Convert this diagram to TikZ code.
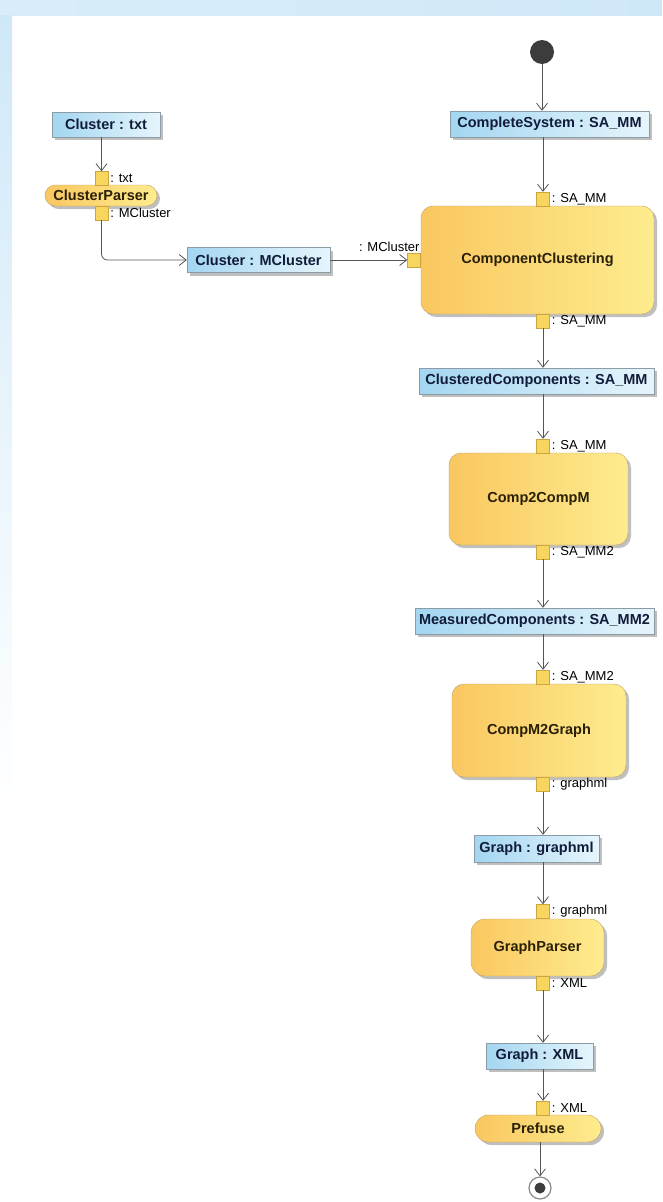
\documentclass[tikz,border=0pt]{standalone}
\usepackage{fontspec}
\setmainfont{Liberation Sans}
\usetikzlibrary{positioning,arrows.meta,shadows}

\definecolor{objleft}{HTML}{A3D6F1}
\definecolor{objright}{HTML}{E6F5FC}
\definecolor{objline}{HTML}{8C9CA4}
\definecolor{objtext}{HTML}{121C3A}
\definecolor{actleft}{HTML}{FAC760}
\definecolor{actright}{HTML}{FDEC8E}
\definecolor{actline}{HTML}{BFA062}
\definecolor{acttext}{HTML}{2A2008}
\definecolor{pinfill}{HTML}{F8D55E}
\definecolor{pinline}{HTML}{C9A640}
\definecolor{flowgray}{HTML}{555555}
\definecolor{dotgray}{HTML}{3C3C3C}
\definecolor{bandblue}{HTML}{CFE8F8}

\tikzset{
  objbox/.style={draw=objline, left color=objleft, right color=objright, inner sep=0pt,
    font=\fontsize{14.5}{16}\selectfont\bfseries, text=objtext,
    drop shadow={shadow xshift=3pt, shadow yshift=-3pt, fill=black, opacity=.25}},
  action/.style={draw=actline, left color=actleft, right color=actright, rounded corners=12pt,
    inner sep=0pt, font=\fontsize{14.5}{16}\selectfont\bfseries, text=acttext,
    drop shadow={shadow xshift=3pt, shadow yshift=-3pt, fill=black, opacity=.25}},
  pin/.style={draw=pinline, fill=pinfill, minimum width=13pt, minimum height=14pt, inner sep=0pt},
  pinlbl/.style={font=\fontsize{13}{15}\selectfont, inner sep=1pt},
  flow/.style={draw=flowgray, line width=0.8pt, -{Straight Barb[length=7pt,width=11pt]}},
}

\begin{document}
\begin{tikzpicture}[x=1pt,y=-1pt]
\useasboundingbox (0,0) rectangle (662,1202);
% window bands
\fill[left color=bandblue!80, right color=bandblue] (0,0) rectangle (662,15);
\shade[top color=bandblue, bottom color=white] (0,15) rectangle (12,800);

% initial node
\node[circle, fill=dotgray, minimum size=24pt, inner sep=0pt] (start) at (542,52) {};

% cluster parsing branch
\node[objbox, minimum width=108pt, minimum height=25pt] (ctxt) at (106,124.5) {Cluster : txt};
\node[action, rounded corners=10.5pt, minimum width=112pt, minimum height=21pt] (cparse) at (101,195.5) {ClusterParser};
\node[pin] (cpin) at (101.5,178.5) {};
\node[pinlbl, right=1pt of cpin] (lcpin) {: txt};
\node[pin] (cpout) at (101.5,213) {};
\node[pinlbl, right=1pt of cpout] (lcpout) {: MCluster};
\node[objbox, minimum width=143pt, minimum height=25pt] (cmcl) at (258.5,260) {Cluster : MCluster};

% main chain
\node[objbox, minimum width=199pt, minimum height=26pt] (cs) at (549.5,124) {CompleteSystem : SA\_MM};

\node[action, minimum width=233pt, minimum height=108pt] (ccomp) at (537.5,260) {ComponentClustering};
\node[pin] (ccin) at (543,199) {};
\node[pinlbl, right=1pt of ccin] (lccin) {: SA\_MM};
\node[pin] (ccside) at (414,260) {};
\node[pinlbl, anchor=south east] (lccside) at (ccside.north east) {: MCluster};
\node[pin] (ccout) at (543,321) {};
\node[pinlbl, right=1pt of ccout] (lccout) {: SA\_MM};

\node[objbox, minimum width=235pt, minimum height=26pt] (clcomp) at (536.5,381) {ClusteredComponents : SA\_MM};

\node[action, minimum width=179pt, minimum height=92pt] (c2c) at (538.5,499) {Comp2CompM};
\node[pin] (c2in) at (543,446) {};
\node[pinlbl, right=1pt of c2in] (lc2in) {: SA\_MM};
\node[pin] (c2out) at (543,552) {};
\node[pinlbl, right=1pt of c2out] (lc2out) {: SA\_MM2};

\node[objbox, minimum width=239pt, minimum height=26pt] (mcomp) at (534.5,621) {MeasuredComponents : SA\_MM2};

\node[action, minimum width=174pt, minimum height=93pt] (m2g) at (539,730.5) {CompM2Graph};
\node[pin] (m2in) at (543,677) {};
\node[pinlbl, right=1pt of m2in] (lm2in) {: SA\_MM2};
\node[pin] (m2out) at (543,784.5) {};
\node[pinlbl, right=1pt of m2out] (lm2out) {: graphml};

\node[objbox, minimum width=125pt, minimum height=27pt] (ggml) at (536.5,848.5) {Graph : graphml};

\node[action, rounded corners=14pt, minimum width=133pt, minimum height=57pt] (gparse) at (537.5,947.5) {GraphParser};
\node[pin] (gpin) at (543,911.5) {};
\node[pinlbl, right=1pt of gpin] (lgpin) {: graphml};
\node[pin] (gpout) at (543,983) {};
\node[pinlbl, right=1pt of gpout] (lgpout) {: XML};

\node[objbox, minimum width=107pt, minimum height=26pt] (gxml) at (539.5,1056) {Graph : XML};

\node[action, rounded corners=13.5pt, minimum width=126pt, minimum height=27pt] (prefuse) at (538,1128.5) {Prefuse};
\node[pin] (pfin) at (543,1108) {};
\node[pinlbl, right=1pt of pfin] (lpfin) {: XML};

% final node
\node[circle, draw=dotgray!60, line width=1.2pt, fill=white, minimum size=22pt, inner sep=0pt] (stop) at (540,1188) {};
\node[circle, fill=dotgray, minimum size=11pt, inner sep=0pt] (stopdot) at (stop) {};

% object flows
\draw[flow] (start) -- (start |- cs.north);
\draw[flow] (cs.south -| ccin) -- (ccin);
\draw[flow] (ctxt.south -| cpin) -- (cpin);
\draw[flow, rounded corners=6pt] (cpout) |- (cmcl);
\draw[flow] (cmcl) -- (ccside);
\draw[flow] (ccout) -- (ccout |- clcomp.north);
\draw[flow] (clcomp.south -| c2in) -- (c2in);
\draw[flow] (c2out) -- (c2out |- mcomp.north);
\draw[flow] (mcomp.south -| m2in) -- (m2in);
\draw[flow] (m2out) -- (m2out |- ggml.north);
\draw[flow] (ggml.south -| gpin) -- (gpin);
\draw[flow] (gpout) -- (gpout |- gxml.north);
\draw[flow] (gxml.south -| pfin) -- (pfin);
\draw[flow] (prefuse.south -| stop) -- (stop);
\end{tikzpicture}
\end{document}
